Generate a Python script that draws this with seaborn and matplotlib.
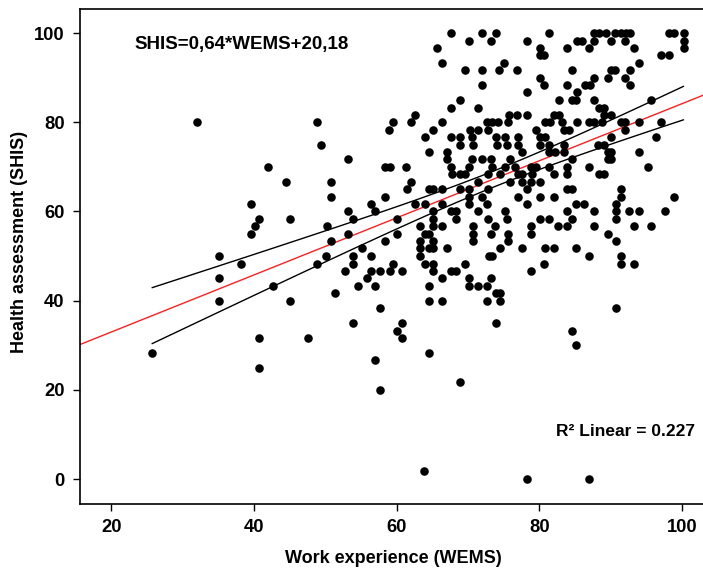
# -*- coding: utf-8 -*-
"""
Scatter of health assessment (SHIS) against work experience (WEMS),
SPSS style: fitted line in red plus 95% confidence lines for the mean.
"""

import numpy as np
import pandas as pd
import matplotlib
matplotlib.use("Agg")
import matplotlib.pyplot as plt
import seaborn as sns

# ==================== data ====================
wems = [
    67.6, 71.9, 73.9, 81.3, 87.7, 88.3, 89.4, 90.6, 91.4, 92.2, 92.7, 98.2, 98.9, 100.2,
    73.2, 70.1, 78.3, 85.2, 85.9, 87.7, 90.1, 92.0, 100.2,
    65.7, 80.1, 83.9, 87.0, 93.3, 100.2,
    80.1, 80.7, 97.0, 98.2,
    66.3, 75.1, 93.9,
    69.5, 72.0, 74.4, 76.9, 84.5, 90.1, 90.6, 92.7,
    80.1, 87.7, 89.6, 92.0,
    72.0, 80.7, 83.9, 86.4, 87.1, 92.7,
    78.3, 85.2,
    68.9, 82.7, 84.5, 85.1, 87.7, 95.7,
    67.6, 71.4, 88.3, 89.0,
    62.5, 75.7, 76.9, 78.3, 82.1, 82.7, 89.0, 90.1,
    32.0, 48.8, 59.5, 62.0, 66.3, 72.6, 73.3, 74.2, 75.6, 80.8, 81.5, 83.1, 85.2, 87.0, 87.7, 88.8, 91.4, 92.0, 93.9, 97.0,
    58.9, 65.1, 70.3, 71.4, 72.8, 79.5, 83.5, 84.1, 92.0,
    63.9, 67.6, 68.9, 70.5, 73.9, 75.2, 77.0, 80.1, 80.8, 90.1, 96.4,
    49.4, 68.9, 70.7, 74.0, 75.4, 77.0, 80.1, 81.3, 83.4, 88.2, 89.0,
    64.5, 67.0, 77.5, 81.3, 82.2, 83.4, 89.6, 90.1, 93.9,
    53.2, 67.0, 70.5, 71.9, 73.2, 75.9, 84.5, 89.6, 90.1,
    42.0, 58.3, 59.0, 61.3, 67.6, 70.1, 73.3, 75.2, 76.6, 78.8, 79.5, 81.3, 83.8, 86.9, 95.2,
    67.7, 68.9, 69.6, 72.8, 74.5, 77.0, 77.6, 78.9, 82.1, 83.8, 88.3, 89.0,
    44.5, 50.8, 62.0, 71.4, 75.9, 77.6, 78.8, 80.1,
    61.4, 64.5, 65.1, 66.3, 68.9, 70.1, 72.8, 78.2, 83.8, 84.5, 91.4,
    50.8, 58.3, 70.1, 71.9, 77.0, 80.1, 82.0, 91.4, 98.9,
    39.5, 56.4, 62.6, 63.9, 66.3, 70.1, 72.6, 78.2, 85.1, 86.3, 90.8,
    53.2, 57.0, 65.1, 67.6, 68.3, 71.4, 75.2, 83.8, 87.7, 90.8, 92.6, 93.9, 97.6,
    40.7, 45.1, 53.9, 60.1, 65.1, 68.3, 72.8, 75.4, 80.1, 81.4, 84.5, 90.8,
    40.1, 50.2, 63.3, 65.1, 66.3, 70.7, 73.8, 78.8, 82.6, 83.8, 87.7, 93.3, 95.7,
    39.5, 53.2, 60.1, 63.9, 64.5, 70.7, 73.2, 75.6, 78.8, 89.6,
    50.8, 58.3, 63.3, 65.1, 70.7, 75.6, 90.8,
    55.1, 63.3, 64.5, 65.1, 67.0, 74.5, 77.6, 80.8, 82.0, 85.1,
    35.1, 50.1, 53.8, 56.4, 63.3, 72.9, 73.3, 86.9, 91.4,
    38.2, 48.8, 53.8, 59.5, 63.9, 65.1, 69.5, 80.7, 91.4, 93.3,
    52.7, 56.4, 57.7, 59.0, 60.8, 65.1, 67.6, 68.3, 78.8,
    35.1, 55.8, 66.3, 70.1, 73.2,
    42.6, 54.5, 57.0, 64.5, 70.1, 71.4, 72.7,
    51.4, 73.9, 74.5,
    35.1, 45.1, 64.5, 66.3, 72.6, 74.5,
    57.7, 90.8,
    53.8, 60.8, 73.9,
    60.1, 84.5,
    40.7, 47.6, 60.8,
    85.1,
    25.7, 64.5,
    57.0,
    40.7,
    68.8,
    57.6,
    63.8,
    78.2, 87.0,
]

shis = [
    100, 100, 100, 100, 100, 100, 100, 100, 100, 100, 100, 100, 100, 100,
    98.3, 98.3, 98.3, 98.3, 98.3, 98.3, 98.3, 98.3, 98.3,
    96.7, 96.7, 96.7, 96.7, 96.7, 96.7,
    95.0, 95.0, 95.0, 95.0,
    93.3, 93.3, 93.3,
    91.7, 91.7, 91.7, 91.7, 91.7, 91.7, 91.7, 91.7,
    90.0, 90.0, 90.0, 90.0,
    88.3, 88.3, 88.3, 88.3, 88.3, 88.3,
    86.7, 86.7,
    85.0, 85.0, 85.0, 85.0, 85.0, 85.0,
    83.3, 83.3, 83.3, 83.3,
    81.7, 81.7, 81.7, 81.7, 81.7, 81.7, 81.7, 81.7,
    80.0, 80.0, 80.0, 80.0, 80.0, 80.0, 80.0, 80.0, 80.0, 80.0, 80.0, 80.0, 80.0, 80.0, 80.0, 80.0, 80.0, 80.0, 80.0, 80.0,
    78.3, 78.3, 78.3, 78.3, 78.3, 78.3, 78.3, 78.3, 78.3,
    76.7, 76.7, 76.7, 76.7, 76.7, 76.7, 76.7, 76.7, 76.7, 76.7, 76.7,
    75.0, 75.0, 75.0, 75.0, 75.0, 75.0, 75.0, 75.0, 75.0, 75.0, 75.0,
    73.3, 73.3, 73.3, 73.3, 73.3, 73.3, 73.3, 73.3, 73.3,
    71.7, 71.7, 71.7, 71.7, 71.7, 71.7, 71.7, 71.7, 71.7,
    70.0, 70.0, 70.0, 70.0, 70.0, 70.0, 70.0, 70.0, 70.0, 70.0, 70.0, 70.0, 70.0, 70.0, 70.0,
    68.3, 68.3, 68.3, 68.3, 68.3, 68.3, 68.3, 68.3, 68.3, 68.3, 68.3, 68.3,
    66.7, 66.7, 66.7, 66.7, 66.7, 66.7, 66.7, 66.7,
    65.0, 65.0, 65.0, 65.0, 65.0, 65.0, 65.0, 65.0, 65.0, 65.0, 65.0,
    63.3, 63.3, 63.3, 63.3, 63.3, 63.3, 63.3, 63.3, 63.3,
    61.7, 61.7, 61.7, 61.7, 61.7, 61.7, 61.7, 61.7, 61.7, 61.7, 61.7,
    60.0, 60.0, 60.0, 60.0, 60.0, 60.0, 60.0, 60.0, 60.0, 60.0, 60.0, 60.0, 60.0,
    58.3, 58.3, 58.3, 58.3, 58.3, 58.3, 58.3, 58.3, 58.3, 58.3, 58.3, 58.3,
    56.7, 56.7, 56.7, 56.7, 56.7, 56.7, 56.7, 56.7, 56.7, 56.7, 56.7, 56.7, 56.7,
    55.0, 55.0, 55.0, 55.0, 55.0, 55.0, 55.0, 55.0, 55.0, 55.0,
    53.3, 53.3, 53.3, 53.3, 53.3, 53.3, 53.3,
    51.7, 51.7, 51.7, 51.7, 51.7, 51.7, 51.7, 51.7, 51.7, 51.7,
    50.0, 50.0, 50.0, 50.0, 50.0, 50.0, 50.0, 50.0, 50.0,
    48.3, 48.3, 48.3, 48.3, 48.3, 48.3, 48.3, 48.3, 48.3, 48.3,
    46.7, 46.7, 46.7, 46.7, 46.7, 46.7, 46.7, 46.7, 46.7,
    45.0, 45.0, 45.0, 45.0, 45.0,
    43.3, 43.3, 43.3, 43.3, 43.3, 43.3, 43.3,
    41.7, 41.7, 41.7,
    40.0, 40.0, 40.0, 40.0, 40.0, 40.0,
    38.3, 38.3,
    35.0, 35.0, 35.0,
    33.3, 33.3,
    31.7, 31.7, 31.7,
    30.0,
    28.3, 28.3,
    26.7,
    25.0,
    21.7,
    20.0,
    1.7,
    0.0, 0.0,
]

# fitted line as printed on the chart
slope = 0.64
intercept = 20.18
equation_text = "SHIS=0,64*WEMS+20,18"
r2_text = "R² Linear = 0.227"

x_ticks = [20, 40, 60, 80, 100]
y_ticks = [0, 20, 40, 60, 80, 100]

# ==================== style ====================
sns.set_style("ticks")
plt.rcParams['font.family'] = ['Liberation Sans', 'DejaVu Sans']
plt.rcParams['font.weight'] = 'bold'
plt.rcParams['axes.labelweight'] = 'bold'
plt.rcParams['text.color'] = 'black'
plt.rcParams['axes.labelcolor'] = 'black'
plt.rcParams['xtick.color'] = 'black'
plt.rcParams['ytick.color'] = 'black'

df = pd.DataFrame({'WEMS': wems, 'SHIS': shis})

fig = plt.figure(figsize=(7.03, 5.71), dpi=100)
ax = fig.add_axes([80 / 703, 1 - 504 / 571, (706 - 80) / 703, (504 - 9) / 571])

sns.scatterplot(data=df, x='WEMS', y='SHIS', color='black', s=38,
                linewidth=0, ax=ax, zorder=3)

ax.set_xlim(15.6, 103.35)
ax.set_ylim(-5.6, 105.4)

# red fit line across the whole axis
xl = np.array(ax.get_xlim())
ax.plot(xl, intercept + slope * xl, color='#ff2020', lw=1.0, zorder=2)

# 95% confidence lines for the mean, from the points
x = df['WEMS'].to_numpy()
y = df['SHIS'].to_numpy()
n = len(x)
resid = y - (intercept + slope * x)
s = np.sqrt((resid ** 2).sum() / (n - 2))
sxx = ((x - x.mean()) ** 2).sum()
xs = np.linspace(x.min(), x.max(), 100)
half = 1.97 * s * np.sqrt(1 / n + (xs - x.mean()) ** 2 / sxx)
fit = intercept + slope * xs
ax.plot(xs, fit + half, color='black', lw=1.0, zorder=2)
ax.plot(xs, fit - half, color='black', lw=1.0, zorder=2)

# ==================== axes, labels, texts ====================
ax.set_xticks(x_ticks)
ax.set_yticks(y_ticks)
ax.tick_params(direction='out', length=5, width=1, colors='black',
               labelsize=13.2, pad=6)
for lab in ax.get_xticklabels() + ax.get_yticklabels():
    lab.set_fontweight('bold')
for sp in ax.spines.values():
    sp.set_visible(True)
    sp.set_color('black')
    sp.set_linewidth(1.2)

ax.set_xlabel('Work experience (WEMS)', fontsize=13, fontweight='bold', labelpad=10)
ax.set_ylabel('Health assessment (SHIS)', fontsize=13, fontweight='bold')
ax.yaxis.set_label_coords(-0.083, 0.53)

ax.text(23.3, 97.4, equation_text, ha='left', va='center',
        fontsize=13.5, fontweight='bold')
ax.text(101.8, 10.7, r2_text, ha='right', va='center',
        fontsize=12.5, fontweight='bold')

fig.savefig('out.png', dpi=100)
